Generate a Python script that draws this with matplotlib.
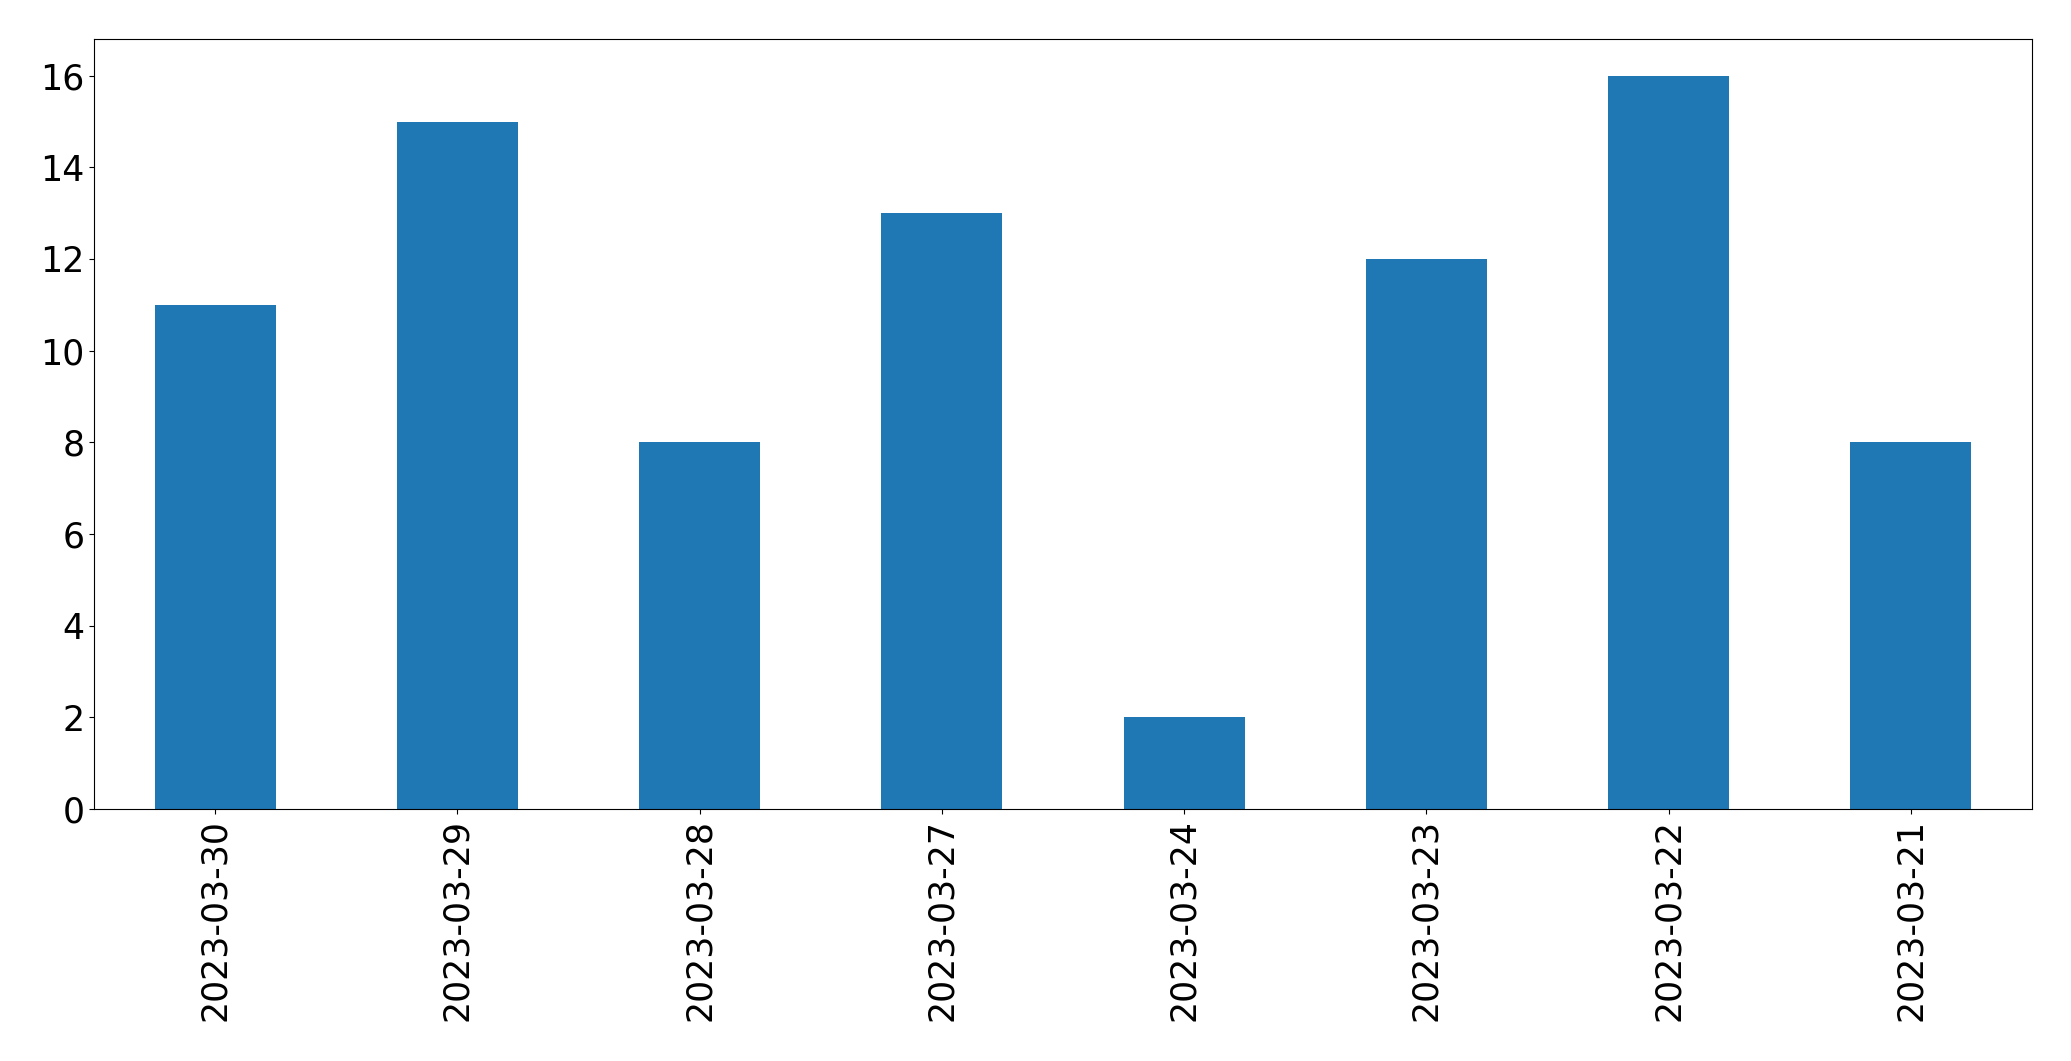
import matplotlib
matplotlib.use("Agg")
import matplotlib.pyplot as plt
import numpy as np

# daily counts, newest first (as in the source table)
dates = ["2023-03-30", "2023-03-29", "2023-03-28", "2023-03-27",
         "2023-03-24", "2023-03-23", "2023-03-22", "2023-03-21"]
counts = [11, 15, 8, 13, 2, 12, 16, 8]

fig = plt.figure(figsize=(20.71, 10.61), dpi=100)
ax = fig.add_axes([94 / 2071, 1 - 809 / 1061, (2032 - 94) / 2071, (809 - 39) / 1061])

x = np.arange(len(dates))
ax.bar(x, counts, width=0.5, color="#1f77b4")
ax.set_xlim(-0.5, len(dates) - 0.5)
ax.set_ylim(0, 16.8)
ax.set_xticks(x)
ax.set_xticklabels(dates, rotation=90)
ax.tick_params(labelsize=25)

fig.savefig("out.png", dpi=100)
